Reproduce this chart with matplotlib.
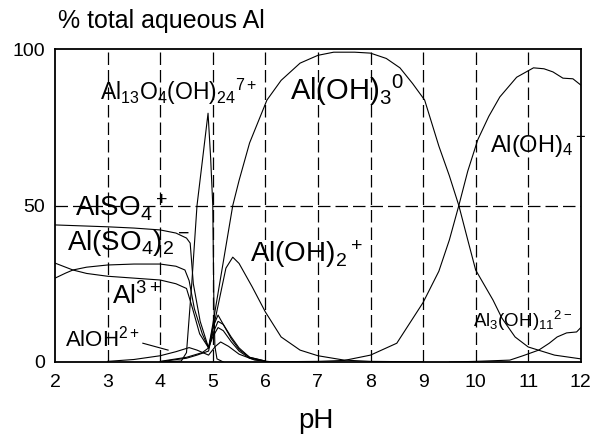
import matplotlib
matplotlib.use("Agg")
import matplotlib.pyplot as plt

plt.rcParams['font.family'] = ['Liberation Sans', 'DejaVu Sans']
plt.rcParams['mathtext.fontset'] = 'custom'
plt.rcParams['mathtext.rm'] = 'Liberation Sans'
plt.rcParams['mathtext.it'] = 'Liberation Sans'
plt.rcParams['mathtext.default'] = 'regular'

# species distribution (pH, % of total aqueous Al)
ph_also4 = [2.0, 2.5, 3.0, 3.5, 4.0, 4.3, 4.5, 4.57, 4.63, 4.76, 4.92, 5.0, 5.1, 5.2, 5.35, 5.5, 5.7, 6.0]
also4 = [43.8, 43.5, 43.2, 42.8, 42.2, 41.2, 39.6, 38.0, 25.0, 13.0, 4.5, 11.0, 15.0, 12.0, 7.5, 4.0, 1.5, 0.3]

ph_also42 = [2.0, 2.2, 2.34, 2.6, 3.0, 3.5, 4.0, 4.3, 4.47, 4.55, 4.65, 4.8, 4.92, 5.0, 5.1, 5.2, 5.35, 5.5, 5.7, 6.0]
also42 = [26.8, 28.4, 29.4, 30.3, 31.0, 31.3, 31.3, 30.6, 29.4, 26.0, 17.0, 9.0, 4.5, 9.0, 13.0, 12.0, 8.0, 4.5, 1.5, 0.3]

ph_al3 = [2.0, 2.2, 2.34, 2.6, 3.0, 3.5, 4.0, 4.3, 4.5, 4.6, 4.75, 4.92, 5.0, 5.1, 5.2, 5.35, 5.5, 5.7, 6.0]
al3 = [31.6, 30.3, 29.4, 28.3, 27.4, 26.8, 26.2, 25.0, 23.5, 18.0, 9.0, 4.5, 8.0, 11.0, 10.0, 6.5, 3.5, 1.2, 0.2]

ph_aloh = [3.0, 3.5, 4.0, 4.3, 4.55, 4.7, 4.92, 5.05, 5.15, 5.3, 5.5, 5.8, 6.1]
aloh = [0.2, 0.8, 2.0, 3.3, 4.6, 3.8, 2.2, 5.0, 6.4, 5.0, 2.5, 0.6, 0.1]

ph_aloh2 = [4.0, 4.5, 4.7, 4.92, 5.05, 5.15, 5.25, 5.38, 5.5, 5.75, 6.0, 6.3, 6.66, 7.0, 7.5, 8.0, 9.0]
aloh2 = [0.1, 1.2, 2.2, 3.5, 14.0, 22.0, 30.0, 33.5, 31.5, 24.0, 16.0, 8.0, 3.8, 2.0, 0.6, 0.2, 0.05]

ph_aloh3 = [4.0, 4.5, 4.8, 4.92, 5.0, 5.1, 5.2, 5.38, 5.5, 5.7, 6.03, 6.3, 6.66, 7.0, 7.3, 7.7, 8.0,
            8.3, 8.56, 8.8, 9.03, 9.3, 9.5, 9.68, 9.85, 10.0, 10.33, 10.5, 10.75, 11.0, 11.5, 12.0]
aloh3 = [0.2, 1.5, 3.0, 4.5, 12.0, 22.0, 32.0, 50.0, 58.0, 70.0, 83.7, 90.0, 95.5, 98.0, 99.0, 99.0, 98.7,
         97.0, 94.0, 89.0, 83.7, 69.0, 59.5, 50.0, 39.0, 29.4, 19.8, 14.0, 8.0, 4.8, 2.2, 1.0]

ph_al13 = [4.0, 4.4, 4.5, 4.6, 4.7, 4.8, 4.91, 4.96, 5.0, 5.02, 5.04, 5.08, 5.2]
al13 = [0.0, 0.3, 3.0, 25.0, 50.0, 64.0, 79.5, 65.0, 50.0, 20.0, 5.0, 1.0, 0.0]

ph_aloh4 = [6.0, 7.0, 7.5, 8.0, 8.5, 9.0, 9.3, 9.5, 9.68, 9.85, 10.04, 10.25, 10.46, 10.78,
            11.1, 11.3, 11.47, 11.66, 11.85, 12.0]
aloh4 = [0.05, 0.2, 0.5, 2.2, 6.0, 19.0, 29.0, 39.0, 50.0, 61.0, 71.0, 78.5, 84.7, 91.0,
         94.0, 93.7, 92.7, 90.7, 90.5, 88.5]

ph_al3oh11 = [9.5, 10.0, 10.65, 10.9, 11.2, 11.4, 11.55, 11.73, 11.92, 12.0]
al3oh11 = [0.0, 0.2, 0.6, 2.0, 3.8, 6.0, 8.0, 9.3, 9.6, 11.0]

curves = [(ph_also4, also4), (ph_also42, also42), (ph_al3, al3), (ph_aloh, aloh),
          (ph_aloh2, aloh2), (ph_aloh3, aloh3), (ph_al13, al13), (ph_aloh4, aloh4),
          (ph_al3oh11, al3oh11)]

fig = plt.figure(figsize=(6.05, 4.42), dpi=100)
ax = fig.add_axes([0.091, 0.181, 0.869, 0.708])

for x, y in curves:
    ax.plot(x, y, color='black', linewidth=0.8)

ax.set_xlim(2, 12)
ax.set_ylim(0, 100)
ax.set_xticks(range(2, 13))
ax.set_yticks([0, 50, 100])
ax.tick_params(length=0, labelsize=14)
ax.tick_params(axis='x', pad=9)
ax.tick_params(axis='y', pad=7)
for s in ax.spines.values():
    s.set_linewidth(1.3)

# dashed grid
for v in range(3, 12):
    ax.axvline(v, color='black', linestyle=(0, (10, 4)), linewidth=0.9)
ax.axhline(50, color='black', linestyle=(0, (10, 4)), linewidth=0.9)

# species labels
ax.text(2.86, 83.7, r'Al$_{13}$O$_4$(OH)$_{24}$$^{7+}$', fontsize=16.5)
ax.text(6.47, 83.7, r'Al(OH)$_3$$^0$', fontsize=21)
ax.text(2.38, 46.6, r'AlSO$_4$$^+$', fontsize=20)
ax.text(2.23, 35.8, r'Al(SO$_4$)$_2$$^-$', fontsize=20)
ax.text(3.08, 18.2, r'Al$^{3+}$', fontsize=19)
ax.text(2.19, 4.8, r'AlOH$^{2+}$', fontsize=16)
ax.plot([3.67, 4.15], [6.0, 3.8], color='black', linewidth=0.8)
ax.text(5.71, 32.0, r'Al(OH)$_2$$^+$', fontsize=20)
ax.text(10.27, 67.0, r'Al(OH)$_4$$^-$', fontsize=17)
ax.text(9.95, 11.2, r'Al$_3$(OH)$_{11}$$^{2-}$', fontsize=13.5)

fig.text(0.096, 0.937, '% total aqueous Al', fontsize=18)
fig.text(0.522, 0.032, 'pH', fontsize=20, ha='center')

fig.savefig('out.png', dpi=100)
